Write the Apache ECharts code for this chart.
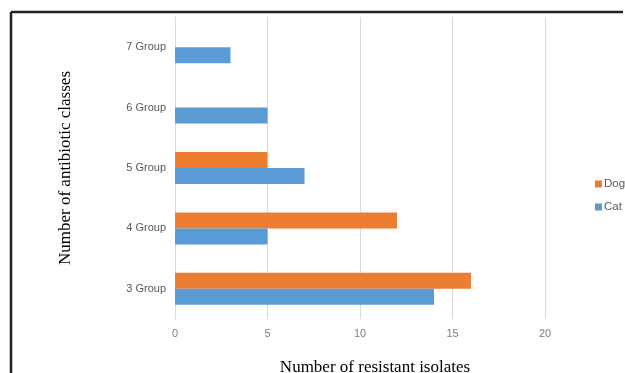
<!DOCTYPE html>
<html>
<head>
<meta charset="utf-8">
<script src="https://cdn.jsdelivr.net/npm/echarts@6/dist/echarts.min.js"></script>
<style>
    html, body {margin: 0; padding: 0; background: #fff; overflow: hidden;}
    #chart {width: 625px; height: 373px;}
</style>
</head>
<body>
<div id="chart"></div>
<script>
var categories = ['3 Group', '4 Group', '5 Group', '6 Group', '7 Group'];
var dogValues = [16, 12, 5, 0, 0];
var catValues = [14, 5, 7, 5, 3];
var xTicks = [0, 5, 10, 15, 20];

var myChart = echarts.init(document.getElementById('chart'));

var labelFont = 'Liberation Sans, Arial, sans-serif';
var titleFont = 'Liberation Serif, Times New Roman, serif';

// frame around the figure (only top and left edges are visible in the crop)
var frame = {stroke: '#222', lineWidth: 2.5};

var option = {
    animation: false,
    backgroundColor: '#fff',
    graphic: [
        {type: 'line', shape: {x1: 11, y1: 12, x2: 623, y2: 12}, style: frame, silent: true},
        {type: 'line', shape: {x1: 11, y1: 12, x2: 11, y2: 373}, style: frame, silent: true}
    ],
    legend: {
        data: ['Dog', 'Cat'],
        orient: 'vertical',
        left: 595,
        top: 178,
        padding: 0,
        itemWidth: 7,
        itemHeight: 7,
        itemGap: 11,
        icon: 'rect',
        textStyle: {color: '#595959', fontSize: 11.5, fontFamily: labelFont, padding: [0, 0, 0, -3]}
    },
    grid: {
        left: 175,
        right: 80,
        top: 17,
        bottom: 54,
        outerBoundsMode: 'none',
        containLabel: false
    },
    xAxis: {
        type: 'value',
        min: xTicks[0],
        max: xTicks[xTicks.length - 1],
        interval: 5,
        axisLine: {show: false},
        axisTick: {show: false},
        axisLabel: {color: '#7f7f7f', fontSize: 11, fontFamily: labelFont, margin: 9},
        splitLine: {lineStyle: {color: '#d9d9d9', width: 1}},
        name: 'Number of resistant isolates',
        nameLocation: 'middle',
        nameGap: 40,
        nameTextStyle: {color: '#000', fontSize: 17, fontFamily: titleFont, padding: [0, 0, 0, 30]}
    },
    yAxis: {
        type: 'category',
        data: categories,
        axisLine: {lineStyle: {color: '#d9d9d9'}},
        axisTick: {show: false},
        axisLabel: {color: '#595959', fontSize: 11, fontFamily: labelFont, margin: 9},
        name: 'Number of antibiotic classes',
        nameLocation: 'middle',
        nameGap: 101,
        nameRotate: 90,
        nameTextStyle: {color: '#000', fontSize: 17, fontFamily: titleFont}
    },
    series: [
        {
            name: 'Dog',
            type: 'bar',
            data: dogValues,
            barWidth: 16,
            barGap: '0%',
            itemStyle: {color: '#ed7d31'}
        },
        {
            name: 'Cat',
            type: 'bar',
            data: catValues,
            barWidth: 16,
            barGap: '0%',
            itemStyle: {color: '#5b9bd5'}
        }
    ]
};

myChart.setOption(option);
</script>
</body>
</html>
